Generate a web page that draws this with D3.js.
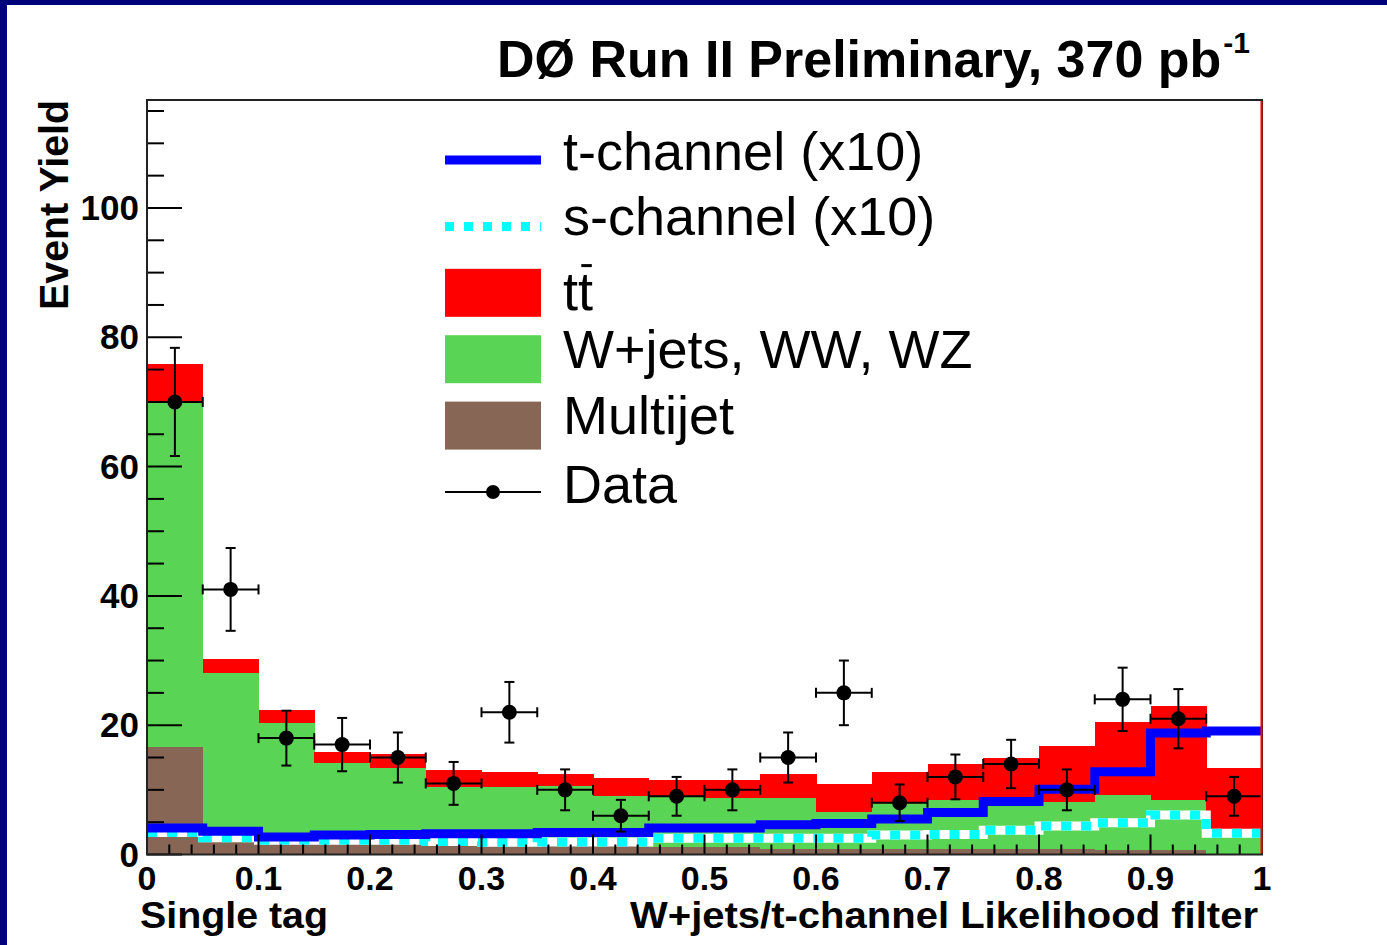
<!DOCTYPE html>
<html>
<head>
<meta charset="utf-8">
<script src="https://cdn.jsdelivr.net/npm/d3@7"></script>
<style>
  html, body { margin: 0; padding: 0; background: #ffffff; }
  svg { display: block; }
  text { font-family: "Liberation Sans", Arial, Helvetica, sans-serif; }
</style>
</head>
<body>
<svg id="chart" width="1387" height="945"></svg>
<script>
// ---------------- data ----------------
const binEdgesLow = [0,0.05,0.1,0.15,0.2,0.25,0.3,0.35,0.4,0.45,0.5,0.55,0.6,0.65,0.7,0.75,0.8,0.85,0.9,0.95];
const binWidth = 0.05;
const multijet = [16.6,2.0,1.9,1.8,1.8,1.7,1.6,1.3,1.3,1.2,1.2,0.9,0.9,0.9,0.8,0.8,0.8,0.7,0.7,0.0];
const wjets    = [53.3,26.1,18.4,12.3,11.6,8.7,8.8,9.3,7.8,7.9,7.6,7.8,5.7,7.0,7.6,7.0,7.3,8.5,7.8,3.8];
const ttbar    = [6.0,2.1,2.1,1.8,2.2,2.7,2.4,1.9,2.8,2.5,2.7,3.8,4.3,4.9,5.6,7.1,8.7,11.3,14.5,9.6];
const tchannel = [4.1,3.6,2.7,3.0,3.1,3.2,3.2,3.4,3.4,4.1,4.1,4.6,4.8,5.5,6.5,8.2,10.1,12.8,18.8,19.1];
const schannel = [3.4,2.6,2.2,2.2,2.2,2.0,1.9,1.95,1.95,2.5,2.5,2.5,2.5,3.0,3.1,3.75,4.4,4.9,6.1,3.3];
const dataCounts = [70,41,18,17,15,11,22,10,6,9,10,15,25,8,12,14,10,24,21,9];

const xTickValues = [0,0.1,0.2,0.3,0.4,0.5,0.6,0.7,0.8,0.9,1];
const xTickLabels = ["0","0.1","0.2","0.3","0.4","0.5","0.6","0.7","0.8","0.9","1"];
const yTickValues = [0,20,40,60,80,100];
const yTickLabels = ["0","20","40","60","80","100"];

const legendLabels = ["t-channel (x10)","s-channel (x10)","tt","W+jets, WW, WZ","Multijet","Data"];
const titleText = "DØ Run II Preliminary, 370 pb";
const titleSup = "-1";
const yTitle = "Event Yield";
const xTitleLeft = "Single tag";
const xTitleRight = "W+jets/t-channel Likelihood filter";

// ---------------- layout ----------------
const svg = d3.select("#chart");
const W = 1387, H = 945;
const plot = {left: 147, right: 1262, top: 100, bottom: 854.5};
const colors = {multijet: "#876656", wjets: "#59d454", ttbar: "#ff0000", t: "#0000ff", s: "#00ffff", navy: "#000078"};

svg.append("rect").attr("width", W).attr("height", H).attr("fill", "#fff");
svg.append("rect").attr("x", 0).attr("y", 0).attr("width", 7).attr("height", H).attr("fill", colors.navy);
svg.append("rect").attr("x", 0).attr("y", 0).attr("width", W).attr("height", 5).attr("fill", colors.navy);

const x = d3.scaleLinear().domain([0, 1]).range([plot.left, plot.right]);
const y = d3.scaleLinear().domain([0, 116.7]).range([plot.bottom, plot.top]);

// ---------------- stacked fills ----------------
const rows = binEdgesLow.map((lo, i) => ({lo, multijet: multijet[i], wjets: wjets[i], ttbar: ttbar[i]}));
const stack = d3.stack().keys(["multijet", "wjets", "ttbar"]);
const series = stack(rows);

const g = svg.append("g");
series.forEach(s => {
  g.selectAll(null).data(s).enter().append("rect")
    .attr("x", d => x(d.data.lo))
    .attr("width", d => x(d.data.lo + binWidth) - x(d.data.lo) + 0.5)
    .attr("y", d => y(d[1]))
    .attr("height", d => Math.max(0, y(d[0]) - y(d[1])))
    .attr("fill", colors[s.key])
    .attr("shape-rendering", "crispEdges");
});

// ---------------- step lines ----------------
function stepPoints(vals) {
  const pts = vals.map((v, i) => [binEdgesLow[i], v]);
  pts.push([binEdgesLow[vals.length - 1] + binWidth, vals[vals.length - 1]]);
  return pts;
}
const stepLine = d3.line().x(d => x(d[0])).y(d => y(d[1])).curve(d3.curveStepAfter);

g.append("path").attr("d", stepLine(stepPoints(schannel)))
  .attr("fill", "none").attr("stroke", "#fff").attr("stroke-width", 9);
g.append("path").attr("d", stepLine(stepPoints(schannel)))
  .attr("fill", "none").attr("stroke", colors.s).attr("stroke-width", 9)
  .attr("stroke-dasharray", "10,10");
g.append("path").attr("d", stepLine(stepPoints(tchannel)))
  .attr("fill", "none").attr("stroke", colors.t).attr("stroke-width", 9);

// ---------------- data points ----------------
const pts = dataCounts.map((n, i) => ({c: binEdgesLow[i] + binWidth / 2, lo: binEdgesLow[i], n, e: Math.sqrt(n)}));
const dg = svg.append("g").attr("stroke", "#000").attr("stroke-width", 2);
const cap = 5;
pts.forEach(p => {
  const cx = x(p.c), cy = y(p.n);
  const x0 = x(p.lo), x1 = x(p.lo + binWidth);
  const yt = y(p.n + p.e), yb = y(p.n - p.e);
  dg.append("line").attr("x1", x0).attr("x2", x1).attr("y1", cy).attr("y2", cy);
  dg.append("line").attr("x1", x0).attr("x2", x0).attr("y1", cy - cap).attr("y2", cy + cap);
  dg.append("line").attr("x1", x1).attr("x2", x1).attr("y1", cy - cap).attr("y2", cy + cap);
  dg.append("line").attr("x1", cx).attr("x2", cx).attr("y1", yt).attr("y2", yb);
  dg.append("line").attr("x1", cx - cap).attr("x2", cx + cap).attr("y1", yt).attr("y2", yt);
  dg.append("line").attr("x1", cx - cap).attr("x2", cx + cap).attr("y1", yb).attr("y2", yb);
  dg.append("circle").attr("cx", cx).attr("cy", cy).attr("r", 7.5).attr("fill", "#000").attr("stroke", "none");
});

// ---------------- axes ----------------
const ax = svg.append("g").attr("stroke", "#000").attr("stroke-width", 2);
d3.range(0, 51).forEach(k => {
  const v = k / 50;
  const major = k % 5 === 0;
  ax.append("line").attr("x1", x(v)).attr("x2", x(v))
    .attr("y1", plot.bottom).attr("y2", plot.bottom - (major ? 20 : 10));
});
d3.range(0, 24).forEach(k => {
  const v = k * 5;
  if (v > 116.7) return;
  const major = v % 20 === 0;
  ax.append("line").attr("y1", y(v)).attr("y2", y(v))
    .attr("x1", plot.left).attr("x2", plot.left + (major ? 35 : 17));
});
svg.append("rect").attr("x", plot.left).attr("y", plot.top)
  .attr("width", plot.right - plot.left).attr("height", plot.bottom - plot.top)
  .attr("fill", "none").attr("stroke", "#222").attr("stroke-width", 2);
svg.append("line").attr("x1", plot.right - 0.5).attr("x2", plot.right - 0.5)
  .attr("y1", plot.top + 1).attr("y2", plot.bottom - 1)
  .attr("stroke", "#ff0000").attr("stroke-width", 2);

// tick labels
svg.append("g").selectAll("text").data(xTickValues).enter().append("text")
  .attr("x", d => x(d)).attr("y", 890)
  .attr("text-anchor", "middle").attr("font-size", 34).attr("font-weight", "bold")
  .text((d, i) => xTickLabels[i]);
svg.append("g").selectAll("text").data(yTickValues).enter().append("text")
  .attr("x", 139).attr("y", d => y(d) + 12)
  .attr("text-anchor", "end").attr("font-size", 35).attr("font-weight", "bold")
  .text((d, i) => yTickLabels[i]);

// axis titles
svg.append("text").attr("transform", "translate(68,205) rotate(-90)")
  .attr("text-anchor", "middle").attr("font-size", 40).attr("font-weight", "bold")
  .attr("textLength", 210).attr("lengthAdjust", "spacingAndGlyphs")
  .text(yTitle);
svg.append("text").attr("x", 140).attr("y", 928)
  .attr("font-size", 36).attr("font-weight", "bold")
  .attr("textLength", 188).attr("lengthAdjust", "spacingAndGlyphs")
  .text(xTitleLeft);
svg.append("text").attr("x", 630).attr("y", 928)
  .attr("font-size", 36).attr("font-weight", "bold")
  .attr("textLength", 628).attr("lengthAdjust", "spacingAndGlyphs")
  .text(xTitleRight);

// title
const t = svg.append("text").attr("x", 497).attr("y", 77)
  .attr("font-size", 52).attr("font-weight", "bold");
t.append("tspan").text(titleText);
t.append("tspan").attr("dx", 2).attr("dy", -24).attr("font-size", 30).text(titleSup);

// ---------------- legend ----------------
const lg = svg.append("g");
const rowY = i => 160 + i * 66.4;
const symX0 = 445, symX1 = 541, textX = 563;
lg.append("line").attr("x1", symX0).attr("x2", symX1).attr("y1", rowY(0)).attr("y2", rowY(0))
  .attr("stroke", colors.t).attr("stroke-width", 9);
lg.append("line").attr("x1", symX0).attr("x2", symX1).attr("y1", rowY(1)).attr("y2", rowY(1))
  .attr("stroke", colors.s).attr("stroke-width", 9).attr("stroke-dasharray", "9,10");
[["ttbar", 2], ["wjets", 3], ["multijet", 4]].forEach(([k, i]) => {
  lg.append("rect").attr("x", symX0).attr("y", rowY(i) - 24).attr("width", symX1 - symX0).attr("height", 48)
    .attr("fill", colors[k]);
});
lg.append("line").attr("x1", symX0).attr("x2", symX1).attr("y1", rowY(5)).attr("y2", rowY(5))
  .attr("stroke", "#000").attr("stroke-width", 2);
lg.append("circle").attr("cx", (symX0 + symX1) / 2).attr("cy", rowY(5)).attr("r", 7).attr("fill", "#000");

const baseOff = [10, 9, 17, 9, 8, 11];
legendLabels.forEach((lab, i) => {
  const tx = lg.append("text").attr("x", textX).attr("y", rowY(i) + baseOff[i]).attr("font-size", 54).text(lab);
  if (lab === "tt") {
    // overbar on the second t (anti-top)
    const ext = tx.node().getExtentOfChar(1);
    lg.append("line")
      .attr("x1", ext.x + ext.width * 0.22).attr("x2", ext.x + ext.width * 0.92)
      .attr("y1", ext.y + ext.height * 0.08).attr("y2", ext.y + ext.height * 0.08)
      .attr("stroke", "#000").attr("stroke-width", 3);
  }
});
</script>
</body>
</html>
